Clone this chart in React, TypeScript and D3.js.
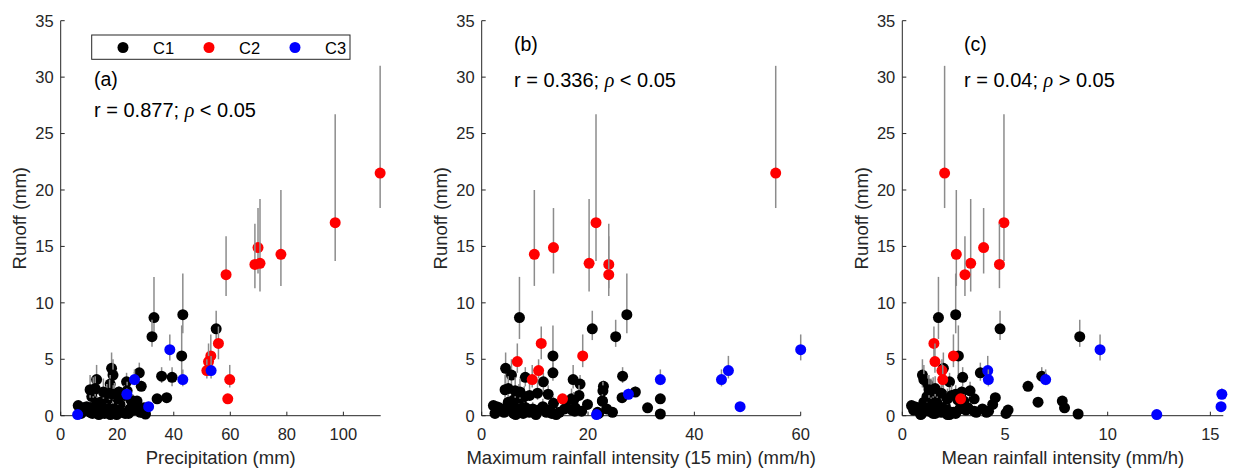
import React from 'react';
import * as d3 from 'd3';

const clusterNames = ['C1', 'C2', 'C3'];
const clusterColors = ['#000000', '#ff0000', '#0000ff'];

const yTicks = [0, 5, 10, 15, 20, 25, 30, 35];
const xTicksA = [0, 20, 40, 60, 80, 100];
const xTicksB = [0, 20, 40, 60];
const xTicksC = [0, 5, 10, 15];

const panelLabels = ['(a)', '(b)', '(c)'];
const panelR = ['0.877', '0.336', '0.04'];
const panelSign = ['<', '<', '>'];
const xTitles = ['Precipitation (mm)', 'Maximum rainfall intensity (15 min) (mm/h)', 'Mean rainfall intensity (mm/h)'];

// C1 (black)
const c1Precip = [33.0, 43.2, 55.0, 32.3, 42.8, 18.0, 27.8, 18.5, 35.7, 39.4, 12.7, 23.3, 17.5, 28.5,
  6.2, 9.2, 8.0, 9.8, 10.5, 11.5, 12.0, 11.2, 13.5, 13.0, 14.6, 15.5, 16.2, 14.2, 17.0, 18.4, 17.6, 19.3, 20.3, 21.5, 22.8, 19.8, 23.5, 24.5, 25.4, 26.0, 27.2, 28.5, 29.0, 27.8, 28.2, 21.0, 16.8, 24.0, 25.0, 29.5, 30.0, 26.5, 27.0, 37.5, 34.1, 7.2,
  14.0, 16.5, 16.3, 11.0, 19.0, 17.3, 15.1, 11.5, 10.4, 12.2, 20.2, 22.5, 24.8, 20.6, 23.5, 25.5, 12.8, 18.6];
const c1MaxI = [7.1, 27.3, 20.8, 25.2, 13.4, 4.5, 13.4, 5.6, 26.5, 8.2, 17.2, 11.6, 18.5, 22.9,
  2.2, 2.8, 3.3, 3.8, 4.2, 4.8, 5.3, 6.0, 6.4, 6.9, 7.4, 7.8, 8.3, 7.5, 9.0, 9.6, 10.2, 10.8, 11.5, 12.2, 13.2, 14.0, 14.6, 15.6, 16.3, 17.0, 17.6, 18.8, 21.8, 23.5, 24.6, 19.9, 17.5, 22.0, 12.8, 31.2, 33.6, 16.0, 22.7, 26.4, 33.6, 2.5,
  5.0, 6.0, 7.0, 8.0, 9.0, 10.5, 7.2, 6.3, 4.4, 5.0, 16.9, 18.3, 17.3, 28.9, 22.8, 22.7, 13.5, 12.5];
const c1MeanI = [1.76, 2.60, 4.76, 8.64, 2.73, 2.00, 3.80, 0.98, 6.79, 2.94, 1.05, 2.30, 1.25, 6.12,
  0.45, 0.60, 0.75, 0.55, 0.85, 1.20, 0.70, 1.50, 0.90, 1.10, 1.30, 1.60, 1.70, 1.40, 1.90, 2.00, 2.20, 1.80, 2.10, 2.40, 2.60, 2.30, 2.50, 2.80, 2.90, 3.10, 3.20, 3.50, 3.60, 3.90, 4.10, 4.40, 4.20, 5.05, 5.15, 7.90, 8.56, 6.61, 7.79, 4.53, 3.50, 0.95,
  1.05, 1.30, 1.60, 1.20, 2.00, 1.90, 1.40, 1.50, 1.30, 1.60, 2.20, 2.40, 2.70, 2.90, 3.30, 3.00, 1.70, 2.60];
const c1Runoff = [8.7, 8.95, 7.7, 7.0, 5.3, 4.2, 3.8, 3.6, 3.5, 3.4, 3.2, 3.0, 2.8, 2.6,
  0.9, 0.8, 0.7, 0.5, 0.3, 0.8, 0.6, 0.2, 0.1, 0.9, 0.4, 0.2, 0.7, 1.0, 0.3, 0.6, 0.1, 0.5, 0.8, 0.3, 0.2, 0.1, 0.3, 0.6, 0.9, 0.5, 0.7, 0.4, 0.3, 0.6, 0.3, 1.0, 0.4, 0.2, 0.5, 0.7, 0.15, 1.2, 1.3, 1.6, 1.5, 0.2,
  1.2, 1.4, 1.6, 1.7, 1.8, 2.0, 2.1, 2.2, 2.3, 2.4, 1.5, 1.8, 1.4, 2.1, 2.2, 1.3, 1.1, 1.9];
const c1Low = [6.8, 7.3, 6.7, 6.1, 3.5, 2.9, 3.1, 2.5, 2.9, 2.6, 2.4, 2.2, 2.0, 2.2,
  0.6, 0.5, 0.4, 0.3, 0.1, 0.5, 0.3, 0.1, 0.0, 0.6, 0.2, 0.1, 0.4, 0.7, 0.1, 0.3, 0.0, 0.3, 0.5, 0.1, 0.1, 0.0, 0.1, 0.3, 0.6, 0.2, 0.4, 0.2, 0.1, 0.3, 0.1, 0.7, 0.2, 0.1, 0.3, 0.5, 0.05, 0.9, 1.0, 1.2, 1.1, 0.1,
  0.8, 1.0, 1.1, 1.2, 1.3, 1.4, 1.5, 1.6, 1.6, 1.7, 1.0, 1.3, 1.0, 1.7, 1.7, 0.9, 0.7, 1.4];
const c1High = [12.3, 12.6, 9.3, 8.5, 8.0, 5.6, 4.7, 5.0, 4.3, 4.3, 4.5, 3.8, 3.6, 3.1,
  1.3, 1.2, 1.1, 0.9, 0.6, 1.5, 1.0, 0.5, 0.3, 1.6, 0.8, 0.5, 1.4, 1.9, 0.7, 1.2, 0.3, 1.0, 1.5, 0.7, 0.5, 0.3, 0.7, 1.1, 1.5, 0.9, 1.2, 0.8, 0.6, 1.0, 0.6, 1.5, 0.8, 0.4, 0.8, 1.0, 0.3, 1.5, 1.7, 2.0, 1.9, 0.5,
  2.0, 2.4, 2.8, 2.6, 2.9, 3.2, 3.3, 3.4, 3.6, 3.5, 2.4, 2.7, 2.1, 2.6, 3.0, 1.9, 1.7, 2.7];

// C2 (red)
const c2Precip = [113.0, 97.1, 77.9, 69.8, 70.5, 68.7, 58.5, 55.8, 53.1, 52.3, 51.7, 59.8, 59.1];
const c2MaxI = [55.3, 21.5, 9.9, 13.5, 20.2, 23.9, 23.9, 11.2, 19.0, 6.7, 10.7, 9.5, 15.2];
const c2MeanI = [2.06, 4.95, 2.63, 3.96, 3.33, 4.73, 3.05, 1.54, 2.49, 1.59, 1.93, 1.97, 2.84];
const c2Runoff = [21.5, 17.1, 14.3, 14.9, 13.5, 13.4, 12.5, 6.4, 5.3, 4.8, 4.0, 3.2, 1.5];
const c2Low = [18.4, 13.7, 11.5, 12.6, 11.0, 11.3, 10.6, 5.0, 4.3, 3.8, 3.3, 2.5, 1.2];
const c2High = [31.0, 26.7, 20.0, 18.4, 19.2, 17.0, 15.9, 7.9, 7.2, 6.4, 5.0, 4.5, 1.9];

// C3 (blue)
const c3Precip = [38.6, 53.2, 26.1, 43.2, 23.4, 31.1, 6.0];
const c3MaxI = [60.0, 46.4, 33.6, 45.1, 27.6, 48.6, 21.6];
const c3MeanI = [9.63, 4.16, 6.98, 4.19, 15.56, 15.52, 12.39];
const c3Runoff = [5.85, 4.0, 3.2, 3.2, 1.9, 0.8, 0.1];
const c3Low = [4.9, 3.3, 2.7, 2.6, 1.5, 0.5, 0.05];
const c3High = [7.2, 5.3, 4.1, 4.1, 2.4, 1.1, 0.2];

const groups = [
  { xs: [c1Precip, c1MaxI, c1MeanI], y: c1Runoff, lo: c1Low, hi: c1High },
  { xs: [c2Precip, c2MaxI, c2MeanI], y: c2Runoff, lo: c2Low, hi: c2High },
  { xs: [c3Precip, c3MaxI, c3MeanI], y: c3Runoff, lo: c3Low, hi: c3High },
];

const FONT = "'Liberation Sans', Arial, Helvetica, sans-serif";
const AXIS = '#262626';
const BAR = '#8c8c8c';

export default function App() {
  const W = 1233, H = 468;
  const yScale = d3.scaleLinear().domain([0, 35]).range([415.7, 20.7]);
  const layouts = [
    { x: d3.scaleLinear().domain([0, 113.2]).range([60.7, 380.7]), ticks: xTicksA, tx: 94, ly: 86, ry: 117 },
    { x: d3.scaleLinear().domain([0, 60]).range([481.7, 800.7]), ticks: xTicksB, tx: 514, ly: 51, ry: 86.5 },
    { x: d3.scaleLinear().domain([0, 15.63]).range([902.3, 1223.3]), ticks: xTicksC, tx: 964, ly: 51, ry: 86.5 },
  ];
  const y0 = yScale(0), yTop = yScale(35);

  return (
    <svg width={W} height={H} style={{ position: 'absolute', left: 0, top: 0, background: '#fff' }} fontFamily={FONT}>
      <rect x={0} y={0} width={W} height={H} fill="#fff" />
      {layouts.map((L, p) => {
        const [xa, xb] = L.x.range();
        return (
          <g key={p}>
            {/* axes */}
            <line x1={xa} x2={xa} y1={y0} y2={yTop} stroke={AXIS} strokeWidth={1} />
            <line x1={xa} x2={xb} y1={y0} y2={y0} stroke={AXIS} strokeWidth={1} />
            {yTicks.map(t => (
              <g key={'y' + t}>
                <line x1={xa} x2={xa + 4} y1={yScale(t)} y2={yScale(t)} stroke={AXIS} />
                <text x={xa - 7} y={yScale(t)} dy="0.36em" textAnchor="end" fontSize={16.5} fill={AXIS}>{t}</text>
              </g>
            ))}
            {L.ticks.map(t => (
              <g key={'x' + t}>
                <line x1={L.x(t)} x2={L.x(t)} y1={y0} y2={y0 - 4} stroke={AXIS} />
                <text x={L.x(t)} y={440} textAnchor="middle" fontSize={16.5} fill={AXIS}>{t}</text>
              </g>
            ))}
            <text x={(xa + xb) / 2} y={464} textAnchor="middle" fontSize={18.5} fill={AXIS}>{xTitles[p]}</text>
            <text transform={`translate(${xa - 34.5},${(y0 + yTop) / 2}) rotate(-90)`} textAnchor="middle" fontSize={18.5} fill={AXIS}>Runoff (mm)</text>
            {/* annotations */}
            <text x={L.tx} y={L.ly} fontSize={19.5} fill="#000">{panelLabels[p]}</text>
            <text x={L.tx} y={L.ry} fontSize={20} fill="#000">
              {`r = ${panelR[p]}; `}
              <tspan fontFamily="'Liberation Serif', 'Times New Roman', serif" fontStyle="italic">ρ</tspan>
              {` ${panelSign[p]} 0.05`}
            </text>
            {/* data */}
            {groups.map((g, gi) => (
              <g key={gi}>
                {g.y.map((v, i) => {
                  const cx = L.x(g.xs[p][i]);
                  return (
                    <g key={i}>
                      <line x1={cx} x2={cx} y1={yScale(g.lo[i])} y2={yScale(g.hi[i])} stroke={BAR} strokeWidth={1.5} />
                      <circle cx={cx} cy={yScale(v)} r={5.5} fill={clusterColors[gi]} />
                    </g>
                  );
                })}
              </g>
            ))}
          </g>
        );
      })}
      {/* legend */}
      <g>
        <rect x={91.7} y={35} width={258.3} height={24.3} fill="#fff" stroke={AXIS} strokeWidth={1} />
        {clusterNames.map((n, i) => (
          <g key={n}>
            <circle cx={123 + i * 86} cy={47.5} r={5.5} fill={clusterColors[i]} />
            <text x={153 + i * 86} y={53.5} fontSize={16.5} fill="#000">{n}</text>
          </g>
        ))}
      </g>
    </svg>
  );
}
